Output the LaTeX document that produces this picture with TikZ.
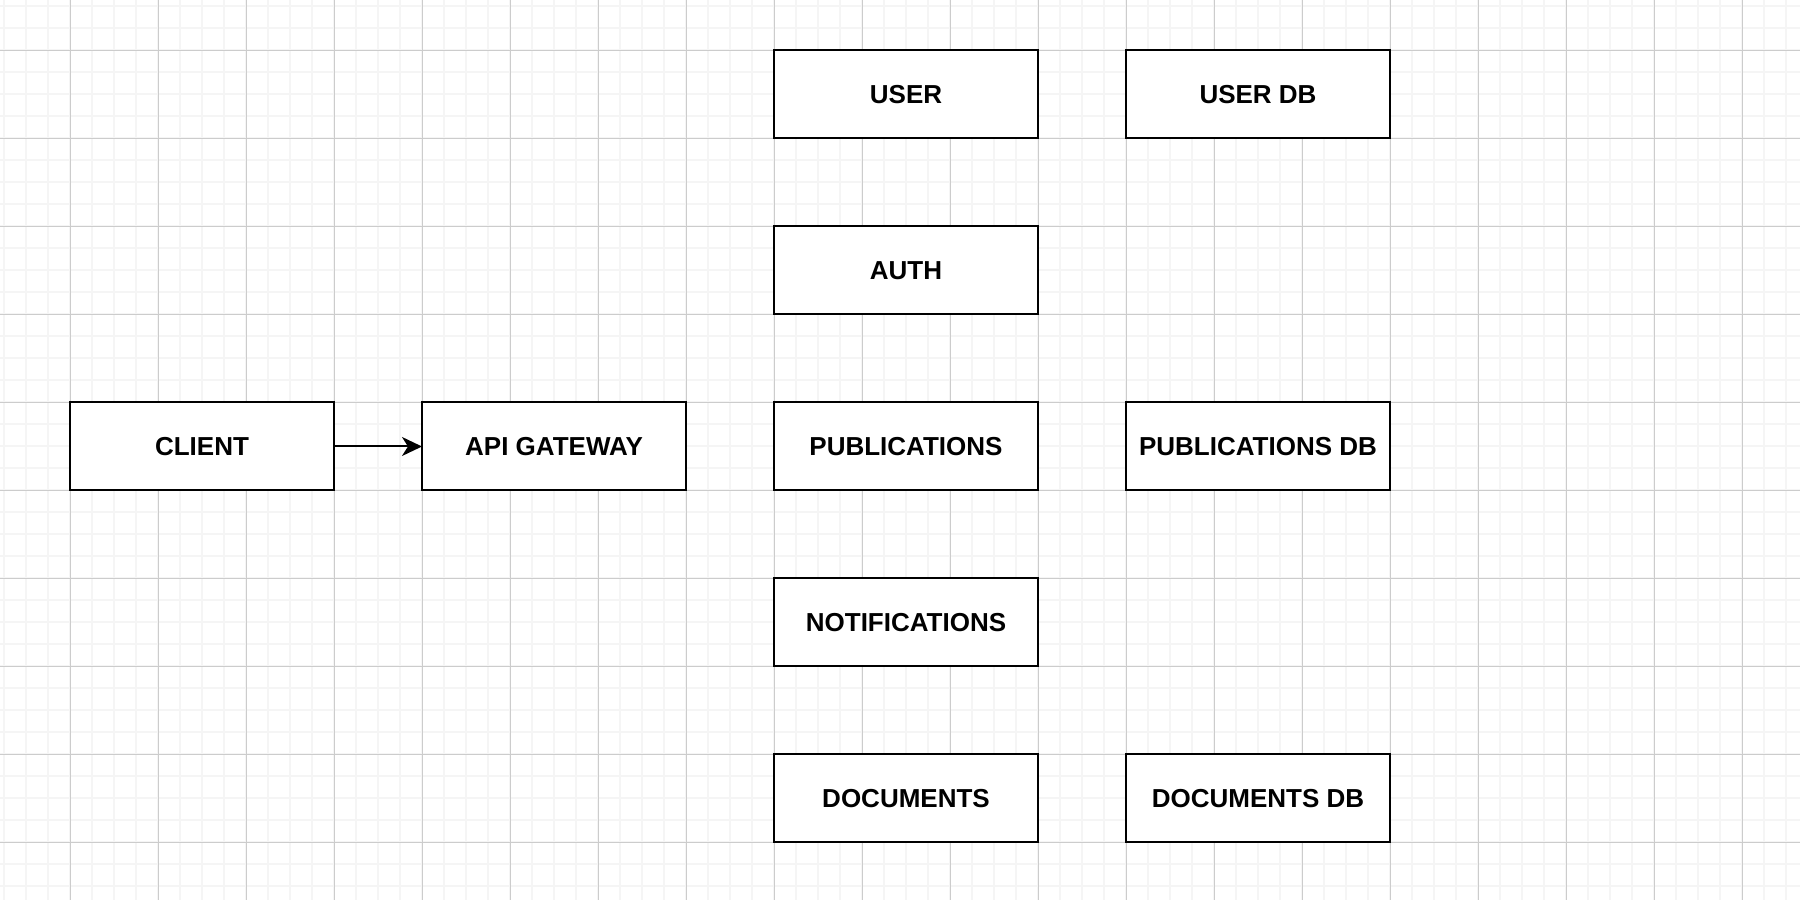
\documentclass[tikz,border=0pt]{standalone}
\usepackage{fontspec}
\setmainfont{Liberation Sans}
\usetikzlibrary{arrows.meta, positioning}

\begin{document}
\begin{tikzpicture}[x=1pt, y=1pt, node distance=88pt,
    box/.style={rectangle, draw, line width=2pt, outer sep=0pt, fill=white, minimum width=264pt, minimum height=88pt, text centered, font=\bfseries\fontsize{26}{31}\selectfont},
    minorline/.style={draw=black!4, line width=2pt},
    majorline/.style={draw=black!20, line width=1pt},
    link/.style={-{Stealth[length=20pt, width=19pt, inset=6pt]}, line width=2pt}]

\fill[white] (0,0) rectangle (1800,900);
\useasboundingbox (0,0) rectangle (1800,900);
\foreach \i in {0,...,81} \draw[minorline] (4+22*\i,0) -- (4+22*\i,900);
\foreach \i in {0,...,40} \draw[minorline] (0,893.5-22*\i) -- (1800,893.5-22*\i);
\foreach \i in {0,...,19} \draw[majorline] (70+88*\i,0) -- (70+88*\i,900);
\foreach \i in {0,...,9} \draw[majorline] (0,849.5-88*\i) -- (1800,849.5-88*\i);

\node [box] (client) at (202,453.5) {CLIENT};
\node [box, right=of client] (gateway) {API GATEWAY};
\node [box, right=of gateway] (publications) {PUBLICATIONS};
\node [box, above=of publications] (auth) {AUTH};
\node [box, above=of auth] (user) {USER};
\node [box, below=of publications] (notifications) {NOTIFICATIONS};
\node [box, below=of notifications] (documents) {DOCUMENTS};
\node [box, right=of user] (userdb) {USER DB};
\node [box, right=of publications] (publicationsdb) {PUBLICATIONS DB};
\node [box, right=of documents] (documentsdb) {DOCUMENTS DB};

\draw [link] (client) -- (gateway);
\end{tikzpicture}
\end{document}
